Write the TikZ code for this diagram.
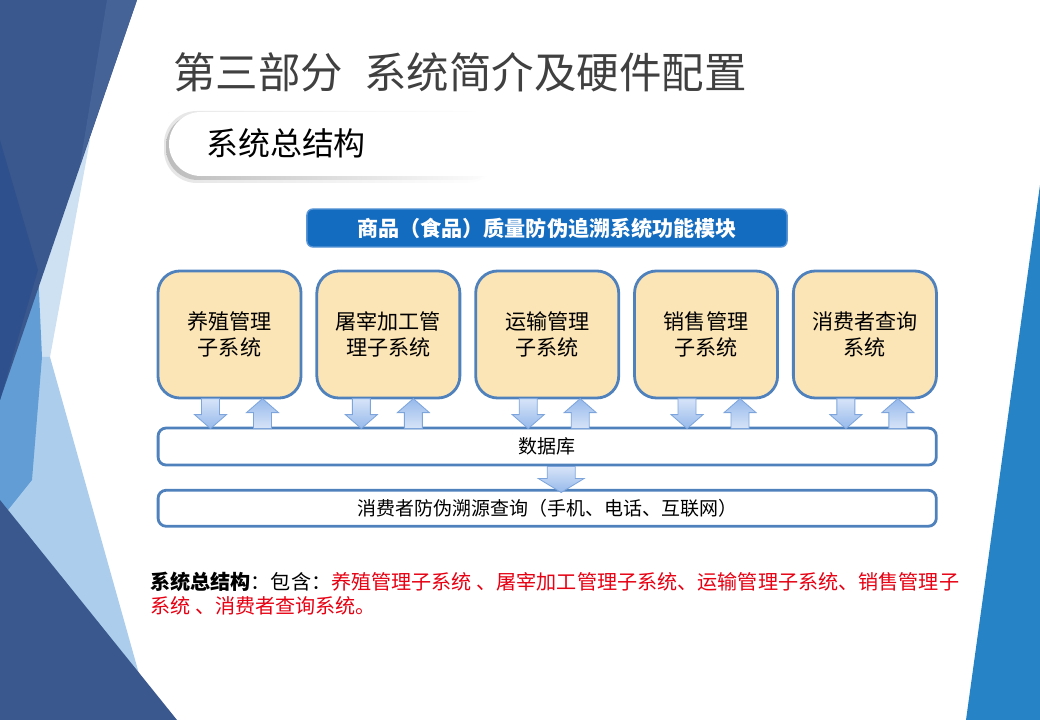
\documentclass[tikz,border=0pt]{standalone}
\usepackage{fontspec}
\setmainfont{Noto Sans CJK SC}
\usetikzlibrary{positioning}

\definecolor{navy}{RGB}{58,88,142}
\definecolor{navydeep}{RGB}{46,80,140}
\definecolor{navylight}{RGB}{70,99,152}
\definecolor{midbg}{RGB}{98,158,213}
\definecolor{lightbg}{RGB}{172,206,236}
\definecolor{verylight}{RGB}{205,225,243}
\definecolor{rightblue}{RGB}{38,131,198}
\definecolor{titlegray}{RGB}{64,64,64}
\definecolor{boxline}{RGB}{79,129,189}
\definecolor{boxfill}{RGB}{251,228,181}
\definecolor{bannerblue}{RGB}{20,108,192}
\definecolor{bannerline}{RGB}{90,150,215}
\definecolor{arrlight}{RGB}{215,228,248}
\definecolor{arrdark}{RGB}{150,185,235}
\definecolor{arrline}{RGB}{125,165,220}
\definecolor{notered}{RGB}{230,0,18}

\begin{document}
\begin{tikzpicture}[
  x=0.025cm, y=-0.025cm,
  every node/.style={inner sep=0pt},
  subbox/.style={draw=boxline, line width=2pt, fill=boxfill, rounded corners=0.55cm,
                 minimum width=3.575cm, minimum height=3.175cm, align=center,
                 font=\fontsize{15}{18}\selectfont},
  barbox/.style={draw=boxline, line width=2pt, fill=white, rounded corners=0.2cm,
                 minimum width=19.45cm, align=center, font=\fontsize{13.5}{16}\selectfont},
  dnarr/.pic={\shade[top color=arrlight, bottom color=arrdark, draw=arrline, line width=0.6pt]
                (-9,0) -- (9,0) -- (9,16) -- (16,16) -- (0,30) -- (-16,16) -- (-9,16) -- cycle;},
  uparr/.pic={\shade[top color=arrdark, bottom color=arrlight, draw=arrline, line width=0.6pt]
                (-9,30) -- (9,30) -- (9,14) -- (16,14) -- (0,0) -- (-16,14) -- (-9,14) -- cycle;},
  bigdn/.pic={\shade[top color=arrlight, bottom color=arrdark, draw=arrline, line width=0.6pt]
                (-14,0) -- (14,0) -- (14,12) -- (23,12) -- (0,26) -- (-23,12) -- (-14,12) -- cycle;}
]
\useasboundingbox (0,0) rectangle (1040,720);

% background facets
\fill[verylight] (90,140) -- (50,357) -- (0,357) -- (0,140) -- cycle;
\fill[lightbg] (50,357) -- (152,720) -- (0,720) -- (0,357) -- cycle;
\fill[midbg] (38,270) -- (42,357) -- (32,480) -- (0,520) -- (0,380) -- cycle;
\fill[navy] (0,0) -- (137,0) -- (0,400) -- cycle;
\fill[navylight] (107,0) -- (137,0) -- (80,165) -- cycle;
\fill[navydeep] (0,140) -- (38,270) -- (0,400) -- cycle;
\fill[navy] (0,500) -- (177,720) -- (0,720) -- cycle;
\fill[rightblue] (1040,185) -- (1040,720) -- (966,720) -- cycle;

% title and pill
\node[anchor=west, text=titlegray, font=\fontsize{30.2}{35}\selectfont] (title) at (173,72)
  {第三部分\hspace{0.5em}系统简介及硬件配置};
\shade[left color=black!10, right color=white, rounded corners=0.82cm] (164,111) rectangle (500,183);
\shade[left color=black!26, right color=white, rounded corners=0.8cm] (166,114) rectangle (500,180);
\fill[white, rounded corners=0.8cm] (169,112) rectangle (540,176);
\node[anchor=west, font=\fontsize{22.7}{26}\selectfont] (sub) at (206,143) {系统总结构};

% module header
\node[draw=bannerline, line width=1pt, fill=bannerblue, rounded corners=0.15cm,
      minimum width=12cm, minimum height=0.95cm, text=white,
      font=\bfseries\fontsize{15}{18}\selectfont] (head) at (547,228)
  {商品（食品）质量防伪追溯系统功能模块};

% subsystems
\node[subbox] (b1) at (229.5,334.5) {养殖管理\\子系统};
\node[subbox, right=0.325cm of b1] (b2) {屠宰加工管\\理子系统};
\node[subbox, right=0.325cm of b2] (b3) {运输管理\\子系统};
\node[subbox, right=0.325cm of b3] (b4) {销售管理\\子系统};
\node[subbox, right=0.325cm of b4] (b5) {消费者查询\\系统};

\node[barbox, minimum height=0.925cm, below=0.68cm of b3] (db) {数据库};
\node[barbox, minimum height=0.9cm, below=0.56cm of db] (qry)
  {消费者防伪溯源查询（手机、电话、互联网）};

% up / down block arrows
\foreach \b/\dx/\ux in {b1/-19/33, b2/-27/25, b3/-19/33, b4/-19/34, b5/-19/33} {
  \pic at ([xshift=\dx*0.025cm, yshift=0.02cm]\b.south) {dnarr};
  \pic at ([xshift=\ux*0.025cm, yshift=0.02cm]\b.south) {uparr};
}
\pic at ([xshift=14*0.025cm]db.south) {bigdn};

% summary
\node[anchor=north west, align=left, font=\fontsize{14.3}{17}\selectfont] (note) at (150,572)
  {\textbf{系统总结构}：包含：\textcolor{notered}{养殖管理子系统 、屠宰加工管理子系统、运输管理子系统、销售管理子}\\
   \textcolor{notered}{系统 、消费者查询系统。}};
\end{tikzpicture}
\end{document}
